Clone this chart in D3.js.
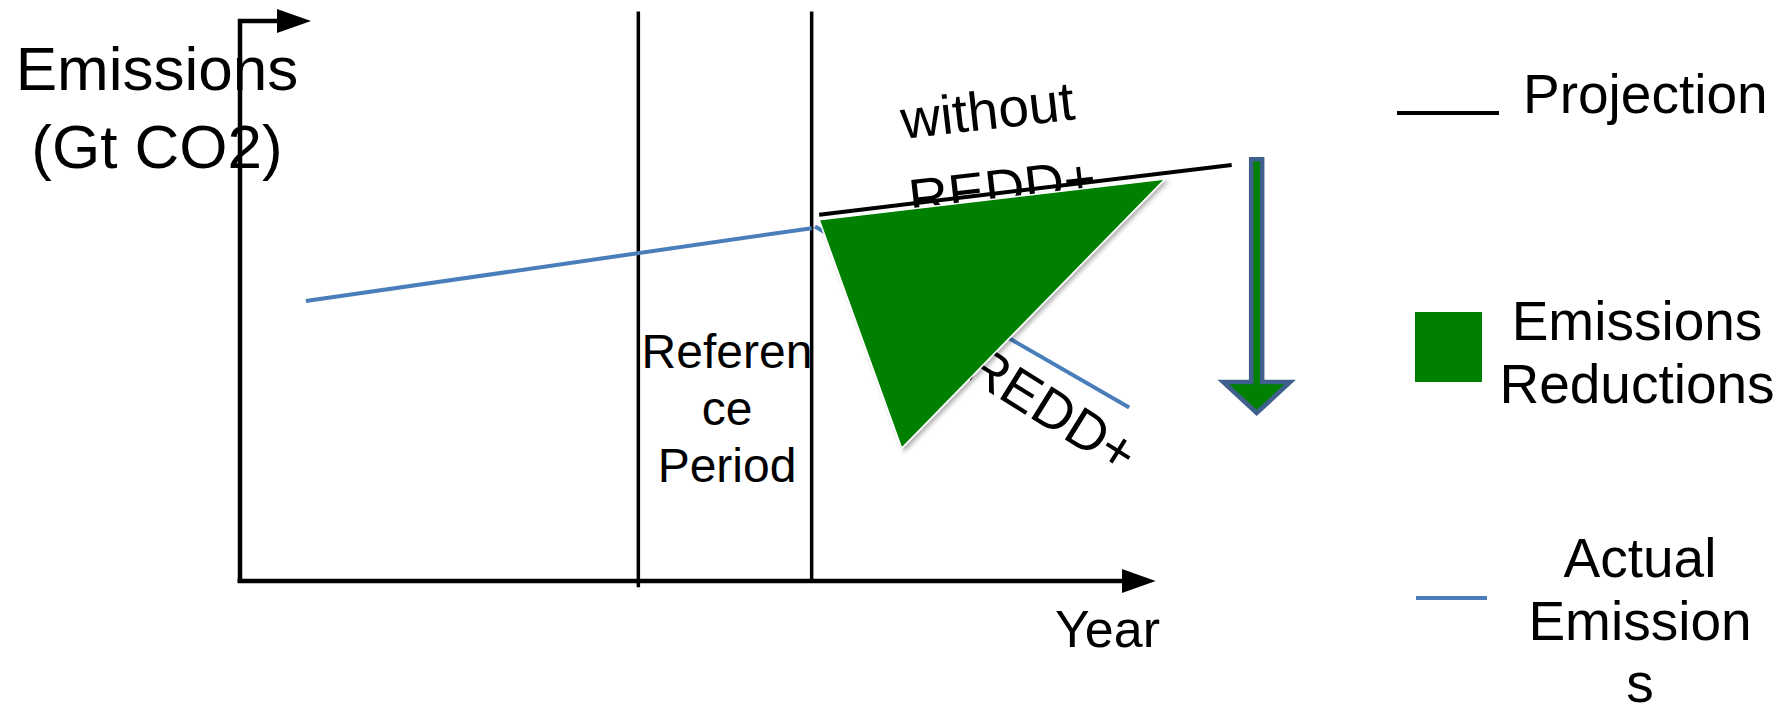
<!DOCTYPE html>
<html lang="en">
<head>
<meta charset="UTF-8">
<title>REDD+ emissions reductions</title>
<script src="https://cdn.jsdelivr.net/npm/d3@7"></script>
<style>
    html, body { margin: 0; padding: 0; background: #fff; }
    svg { display: block; }
    text { font-family: "Liberation Sans", Arial, sans-serif; fill: #000; }
</style>
</head>
<body>
<svg id="chart" width="1790" height="713"></svg>
<script>
// Schematic units: time runs 0..120, emissions 0..100
const axisEndX = 110;
const axisTopY = 100;
const referencePeriod = [47.8, 68.6];
const referenceBottom = [-1.1, 0];
const referenceTop = 101.7;
const actualX = [7.9, 68.6];
const actualY = [50, 63];
const projectionX = [69.5, 119];
const projectionY = [65.4, 74.3];
const withReddX = [69, 106.7];
const withReddY = [63.3, 31];
const reductionX = [69.5, 111, 79.4];
const reductionY = [64.5, 71.8, 23.7];
const arrowX = 122;
const arrowY = [75.3, 30];
const yLabel = ['Emissions', '(Gt CO2)'];
const periodLabel = ['Referen', 'ce', 'Period'];

const GREEN = '#008000';
const BLUE = '#4a7ebb';

const svg = d3.select('#chart');

const x = d3.scaleLinear().domain([0, 120]).range([240, 1240]);
const y = d3.scaleLinear().domain([0, 100]).range([581, 21]);

// arrow heads + shadow
const defs = svg.append('defs');
defs.append('marker')
    .attr('id', 'head')
    .attr('markerUnits', 'userSpaceOnUse')
    .attr('viewBox', '0 -12 34 24')
    .attr('refX', 1).attr('refY', 0)
    .attr('markerWidth', 34).attr('markerHeight', 24)
    .attr('orient', 'auto')
    .append('path')
    .attr('d', 'M0,-12L34,0L0,12Z')
    .attr('fill', '#000');

defs.append('filter')
    .attr('id', 'shadow')
    .attr('x', '-10%').attr('y', '-10%').attr('width', '130%').attr('height', '130%')
    .append('feDropShadow')
    .attr('dx', 2.5).attr('dy', 2.5).attr('stdDeviation', 2)
    .attr('flood-color', '#000').attr('flood-opacity', 0.3);

// reference period lines
svg.selectAll('.ref')
    .data(referencePeriod)
    .enter()
    .append('line')
    .attr('x1', d => x(d)).attr('x2', d => x(d))
    .attr('y1', y(referenceTop))
    .attr('y2', (d, i) => y(referenceBottom[i]))
    .attr('stroke', '#000')
    .attr('stroke-width', 3.5);

// axes
svg.append('path')
    .attr('d', `M${x(0) - 2.5},${y(0)}H${x(axisEndX) - 34}`)
    .attr('stroke', '#000').attr('stroke-width', 4.5).attr('fill', 'none')
    .attr('marker-end', 'url(#head)');

svg.append('path')
    .attr('d', `M${x(0)},${y(0)}V${y(axisTopY)}H${x(0) + 38}`)
    .attr('stroke', '#000').attr('stroke-width', 4.5).attr('fill', 'none')
    .attr('stroke-linejoin', 'miter')
    .attr('marker-end', 'url(#head)');

const line = d3.line().x(d => x(d[0])).y(d => y(d[1]));

// actual emissions up to the end of the reference period
svg.append('path')
    .attr('d', line(d3.zip(actualX, actualY)))
    .attr('stroke', BLUE).attr('stroke-width', 4).attr('fill', 'none');

// with REDD+
svg.append('path')
    .attr('d', line(d3.zip(withReddX, withReddY)))
    .attr('stroke', BLUE).attr('stroke-width', 4).attr('fill', 'none');

// without REDD+ label
svg.append('text')
    .attr('transform', 'translate(903,139) rotate(-6.5)')
    .style('font-size', '55px')
    .text('without');
svg.append('text')
    .attr('transform', 'translate(911,218) rotate(-6.5)')
    .style('font-size', '55px')
    .text('REDD+');

// projection
svg.append('path')
    .attr('d', line(d3.zip(projectionX, projectionY)))
    .attr('stroke', '#000').attr('stroke-width', 4).attr('fill', 'none');

// with REDD+ label
svg.append('text')
    .attr('transform', 'translate(1122,475) rotate(32)')
    .attr('text-anchor', 'end')
    .style('font-size', '55px')
    .text('REDD+');

// emissions reductions
svg.append('path')
    .attr('d', line(d3.zip(reductionX, reductionY)) + 'Z')
    .attr('fill', GREEN)
    .attr('stroke', '#fff').attr('stroke-width', 1.5)
    .attr('filter', 'url(#shadow)');

// downward arrow
const ax = x(arrowX), aTop = y(arrowY[0]), aTip = y(arrowY[1]);
const shaft = 5.5, head = 33.5, headLen = 31;
svg.append('path')
    .attr('d', `M${ax - shaft},${aTop}H${ax + shaft}V${aTip - headLen}H${ax + head}L${ax},${aTip}L${ax - head},${aTip - headLen}H${ax - shaft}Z`)
    .attr('fill', GREEN)
    .attr('stroke', '#3f5f8d').attr('stroke-width', 4.5);

// y axis title
const yTitle = svg.append('text')
    .attr('text-anchor', 'middle')
    .style('font-size', '62px');
yLabel.forEach((t, i) => {
    yTitle.append('tspan').attr('x', 157).attr('y', 90 + i * 78).text(t);
});

// reference period label
const period = svg.append('text')
    .attr('text-anchor', 'middle')
    .style('font-size', '48px');
periodLabel.forEach((t, i) => {
    period.append('tspan').attr('x', 727).attr('y', 368 + i * 57).text(t);
});

// x axis title
svg.append('text')
    .attr('x', 1160).attr('y', 647)
    .attr('text-anchor', 'end')
    .style('font-size', '52px')
    .text('Year');

// legend
svg.append('line')
    .attr('x1', 1397).attr('x2', 1499).attr('y1', 113).attr('y2', 113)
    .attr('stroke', '#000').attr('stroke-width', 4);
svg.append('text')
    .attr('x', 1523).attr('y', 113)
    .style('font-size', '55px')
    .text('Projection');

svg.append('rect')
    .attr('x', 1415).attr('y', 312).attr('width', 67).attr('height', 70)
    .attr('fill', GREEN);
const lg2 = svg.append('text').attr('text-anchor', 'middle').style('font-size', '55px');
['Emissions', 'Reductions'].forEach((t, i) => {
    lg2.append('tspan').attr('x', 1637).attr('y', 340 + i * 63).text(t);
});

svg.append('line')
    .attr('x1', 1416).attr('x2', 1487).attr('y1', 598).attr('y2', 598)
    .attr('stroke', BLUE).attr('stroke-width', 4);
const lg3 = svg.append('text').attr('text-anchor', 'middle').style('font-size', '55px');
['Actual', 'Emission', 's'].forEach((t, i) => {
    lg3.append('tspan').attr('x', 1640).attr('y', 577 + i * 62.5).text(t);
});
</script>
</body>
</html>
